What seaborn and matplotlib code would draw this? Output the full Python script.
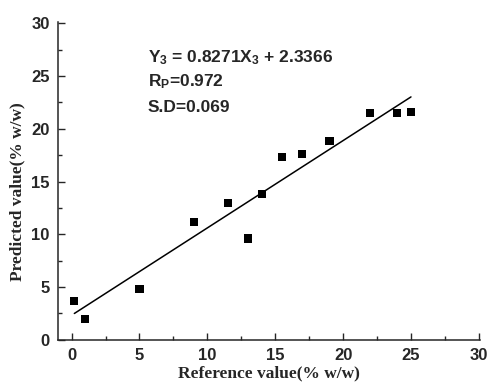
import numpy as np
import pandas as pd
import matplotlib
matplotlib.use('Agg')
import matplotlib.pyplot as plt
from matplotlib.ticker import MultipleLocator
import seaborn as sns

# valores
reference = [0.2, 1.0, 5.0, 9.0, 11.5, 13.0, 14.0, 15.5, 17.0, 19.0, 22.0, 24.0, 25.0]
predicted = [3.65, 2.0, 4.8, 11.2, 13.0, 9.6, 13.85, 17.35, 17.6, 18.85, 21.45, 21.45, 21.55]
slope = 0.8271
intercept = 2.3366
stats_text = [r'Y$_3$ = 0.8271X$_3$ + 2.3366', r'R$_\mathrm{P}$=0.972', 'S.D=0.069']

sns.set_style('ticks')
plt.rcParams['font.family'] = ['Liberation Sans', 'DejaVu Sans']
plt.rcParams['mathtext.fontset'] = 'custom'
plt.rcParams['mathtext.rm'] = 'Liberation Sans:bold'
plt.rcParams['mathtext.bf'] = 'Liberation Sans:bold'
plt.rcParams['mathtext.it'] = 'Liberation Sans:bold'

df = pd.DataFrame({'ref': reference, 'pred': predicted})

fig = plt.figure(figsize=(4.92, 3.88), dpi=100)
ax = fig.add_axes([0.118, 0.124, 0.858, 0.819])

sns.scatterplot(data=df, x='ref', y='pred', marker='s', s=34, color='black',
                edgecolor='none', ax=ax, zorder=3)

# reta de ajuste
xl = np.array([min(reference), max(reference)])
fit = pd.DataFrame({'x': xl, 'y': slope * xl + intercept})
sns.lineplot(data=fit, x='x', y='y', color='black', linewidth=1.1, ax=ax)

ax.set_xlim(-1.0, 30.1)
ax.set_ylim(0, 30.1)
ax.xaxis.set_major_locator(MultipleLocator(5))
ax.xaxis.set_minor_locator(MultipleLocator(2.5))
ax.yaxis.set_major_locator(MultipleLocator(5))
ax.yaxis.set_minor_locator(MultipleLocator(2.5))
ax.tick_params(which='major', direction='in', length=5, width=1, labelsize=12)
ax.tick_params(axis='x', which='major', pad=6)
ax.tick_params(axis='y', which='major', pad=6)
ax.tick_params(which='minor', direction='in', length=3, width=1)
for lb in ax.get_xticklabels() + ax.get_yticklabels():
    lb.set_fontweight('bold')
sns.despine(ax=ax)
for s in ['left', 'bottom']:
    ax.spines[s].set_linewidth(1.1)

ax.set_xlabel('Reference value(% w/w)', fontfamily='Liberation Serif',
              fontweight='bold', fontsize=12.5)
ax.set_ylabel('Predicted value(% w/w)', fontfamily='Liberation Serif',
              fontweight='bold', fontsize=12.5)
ax.xaxis.label.set_va('center')
ax.yaxis.label.set_va('center')
ax.xaxis.set_label_coords(0.5, -0.104)
ax.yaxis.set_label_coords(-0.097, 0.467)

ys = [26.7, 24.5, 22.0]
for t, yy in zip(stats_text, ys):
    ax.text(5.6, yy, t, fontsize=12.5, fontweight='bold', va='center', ha='left')

fig.savefig('out.png', dpi=100)
